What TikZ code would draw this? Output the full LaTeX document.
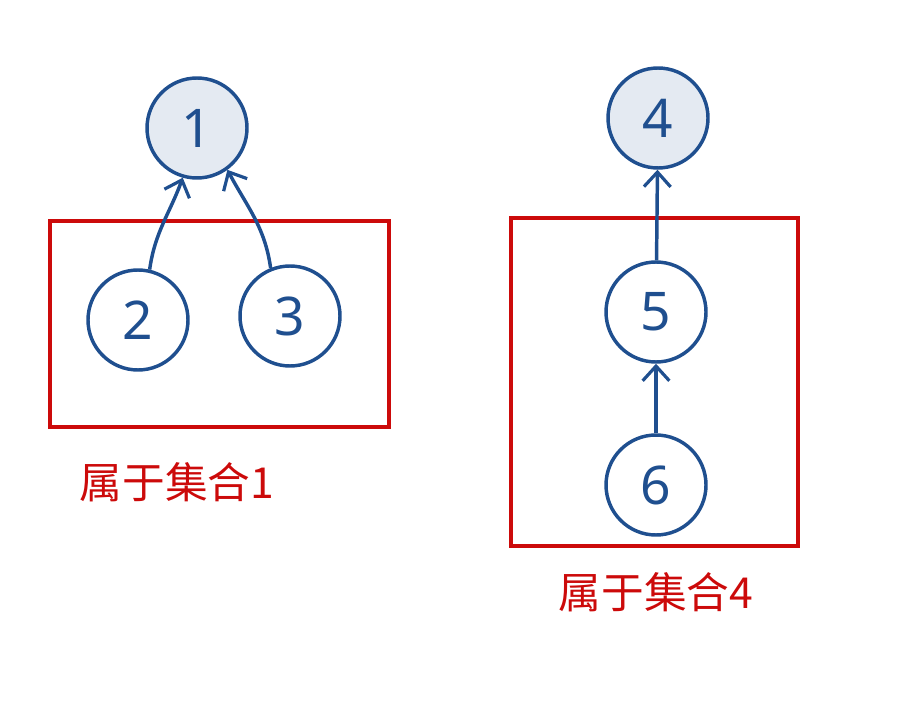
\documentclass[tikz,border=0pt]{standalone}
\usepackage{fontspec}
\setmainfont{Noto Sans}
\newfontfamily\cjk{Noto Sans CJK SC}
\usetikzlibrary{arrows.meta}
\definecolor{setblue}{RGB}{31,79,143}
\definecolor{setfill}{RGB}{228,234,242}
\definecolor{setred}{RGB}{204,10,10}
\tikzset{
  elem/.style={circle,draw=setblue,line width=2.6pt,minimum size=100*0.75pt,inner sep=0pt,
    text=setblue,font=\fontsize{40}{42}\selectfont},
  rootelem/.style={elem,fill=setfill},
  setbox/.style={draw=setred,line width=2.6pt},
  setlabel/.style={text=setred,font=\cjk\fontsize{32}{34}\selectfont,inner sep=0.75pt},
  parent/.style={draw=setblue,line width=2.6pt,-{Straight Barb[length=11pt,width=20pt,line width=2.4pt]}}
}
\begin{document}
\begin{tikzpicture}[x=0.75pt,y=0.75pt,yscale=-1,xscale=1]
\useasboundingbox (0,0) rectangle (916,723);

%Shape: Rectangle [set 1]
\draw [setbox] (50,221) rectangle (389,427);
%Shape: Rectangle [set 4]
\draw [setbox] (511,218) rectangle (798,546);

%Shape: Circle
\node [rootelem] (n1) at (197,128) {1};
\node [elem] (n2) at (138,320) {2};
\node [elem] (n3) at (290,316) {3};
\node [rootelem] (n4) at (658,118) {4};
\node [elem] (n5) at (656,312) {5};
\node [elem] (n6) at (656,485) {6};

%Curve Lines
\draw [parent] (n2.77) to[out=-82,in=-250] (n1.254);
\draw [parent] (n3.112) to[out=-98,in=-298] (n1.306);
%Straight Lines
\draw [parent] (n5) -- (n4);
\draw [parent] (n6) -- (n5);

% Text Node
\node [setlabel] (lbl1) at (177,482) {属于集合1};
% Text Node
\node [setlabel] (lbl4) at (656,592) {属于集合4};
\end{tikzpicture}
\end{document}
